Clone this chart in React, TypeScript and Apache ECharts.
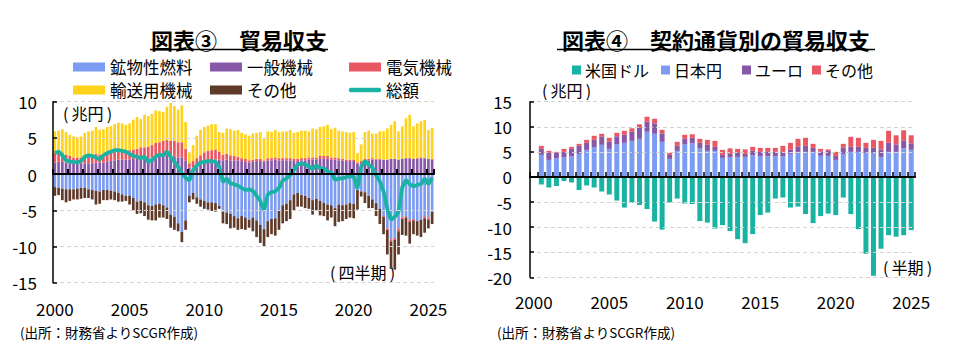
import React, { useEffect, useRef } from "react";
import * as echarts from "echarts";

const FONT = "'Noto Sans CJK JP', 'Noto Sans', sans-serif";

// ---------- 図表③ 貿易収支 (quarterly, 2000Q1 - 2025Q2, 兆円) ----------
const quarterCategories = Array.from({ length: 102 }, (_, i) => `${2000 + Math.floor(i / 4)}Q${(i % 4) + 1}`);

const mineralFuel = [
  -1.8, -1.9, -2.0, -2.1, -2.1, -2.1, -2.0, -1.9, -1.9, -2.1, -2.2, -2.3, -2.4, -2.2, -2.2, -2.3,
  -2.4, -2.6, -2.8, -3.0, -3.0, -3.3, -3.8, -3.7, -3.9, -4.3, -4.4, -4.2, -4.1, -4.3, -4.6, -5.6,
  -5.9, -6.8, -8.0, -6.4, -3.0, -2.6, -3.2, -3.5, -3.7, -3.9, -3.9, -4.0, -4.4, -5.2, -5.3, -5.5,
  -5.8, -6.1, -5.8, -6.0, -6.3, -6.0, -6.4, -7.0, -7.6, -6.5, -6.2, -6.1, -5.0, -4.3, -4.1, -3.6,
  -2.8, -2.6, -2.9, -3.0, -3.3, -3.6, -3.4, -3.7, -4.0, -4.2, -4.3, -4.7, -4.2, -4.3, -4.2, -4.0,
  -4.1, -2.2, -2.4, -2.5, -3.0, -3.5, -4.0, -4.8, -5.8, -7.5, -9.0, -8.8, -7.5, -6.0, -5.8, -6.3,
  -6.2, -6.5, -6.3, -5.8, -6.0, -5.2,
];
const generalMachinery = [
  1.6, 1.7, 1.7, 1.6, 1.5, 1.4, 1.4, 1.4, 1.5, 1.5, 1.5, 1.6, 1.6, 1.6, 1.7, 1.8,
  1.9, 2.0, 2.0, 2.0, 2.0, 2.1, 2.1, 2.2, 2.2, 2.2, 2.3, 2.4, 2.4, 2.5, 2.5, 2.4,
  2.4, 2.3, 2.3, 1.9, 0.9, 0.9, 1.1, 1.3, 1.6, 1.8, 1.9, 2.0, 2.0, 1.9, 2.0, 1.9,
  1.9, 1.9, 1.8, 1.7, 1.6, 1.7, 1.8, 1.8, 1.7, 1.9, 1.9, 2.0, 1.9, 1.9, 1.9, 1.9,
  1.8, 1.8, 1.9, 1.9, 2.0, 2.0, 2.0, 2.1, 2.1, 2.1, 2.0, 2.0, 1.9, 1.9, 1.8, 1.8,
  1.8, 1.4, 1.5, 1.8, 1.9, 2.0, 2.0, 2.0, 2.0, 2.0, 2.1, 2.1, 2.0, 2.1, 2.2, 2.2,
  2.1, 2.1, 2.2, 2.2, 2.1, 2.0,
];
const electricalMachinery = [
  1.3, 1.4, 1.3, 1.1, 1.0, 0.9, 0.9, 0.9, 1.0, 1.1, 1.1, 1.2, 1.1, 1.2, 1.3, 1.4,
  1.5, 1.5, 1.4, 1.3, 1.3, 1.3, 1.4, 1.5, 1.5, 1.6, 1.7, 1.9, 2.0, 2.1, 2.2, 2.2,
  2.2, 2.1, 2.1, 1.6, 0.6, 0.9, 1.1, 1.3, 1.4, 1.4, 1.4, 1.4, 1.1, 0.8, 0.8, 0.7,
  0.6, 0.5, 0.4, 0.4, 0.3, 0.3, 0.3, 0.3, 0.2, 0.3, 0.3, 0.3, 0.3, 0.3, 0.3, 0.3,
  0.3, 0.3, 0.3, 0.3, 0.3, 0.3, 0.3, 0.4, 0.4, 0.4, 0.3, 0.3, 0.3, 0.2, 0.2, 0.2,
  0.2, 0.2, 0.3, 0.3, 0.2, 0.2, 0.1, 0.1, -0.1, -0.2, -0.3, -0.3, -0.4, -0.2, -0.2, -0.3,
  -0.2, 0.1, 0.1, -0.3, -0.3, 0.1,
];
const transportMachinery = [
  3.0, 2.9, 3.2, 3.1, 2.9, 2.9, 2.8, 2.9, 3.2, 3.3, 3.4, 3.7, 3.4, 3.4, 3.5, 3.4,
  3.5, 3.6, 3.6, 3.5, 3.7, 4.1, 4.4, 3.9, 4.5, 4.2, 4.3, 4.5, 4.3, 4.0, 4.6, 5.2,
  4.8, 4.5, 5.1, 3.7, 1.5, 2.2, 3.1, 3.5, 3.5, 3.5, 3.6, 3.5, 2.7, 3.0, 3.5, 3.6,
  3.5, 3.7, 3.5, 3.4, 3.4, 3.6, 3.6, 3.7, 3.1, 3.7, 3.6, 3.8, 3.6, 3.7, 3.7, 3.9,
  3.6, 3.7, 3.8, 3.8, 3.6, 4.0, 3.9, 4.0, 4.1, 4.3, 3.9, 4.1, 3.8, 3.8, 3.8, 3.7,
  3.8, 1.3, 2.3, 3.7, 3.9, 3.4, 3.5, 3.8, 3.9, 4.3, 4.7, 5.2, 3.9, 4.5, 5.5, 6.0,
  4.5, 4.8, 5.0, 5.3, 4.0, 4.3,
];
const otherItems = [
  -1.2, -1.0, -1.6, -1.8, -1.6, -1.4, -1.5, -1.5, -1.4, -1.2, -1.3, -1.9, -1.7, -1.4, -1.4, -1.2,
  -1.2, -1.2, -1.0, -0.7, -1.2, -1.7, -1.7, -1.7, -1.9, -2.0, -2.0, -2.2, -1.9, -1.7, -1.6, -1.8,
  -1.8, -1.1, -1.4, -1.3, -0.9, -0.9, -0.9, -1.0, -1.1, -1.0, -1.2, -1.2, -0.4, -1.6, -1.6, -2.0,
  -1.6, -1.6, -1.8, -1.7, -1.1, -1.9, -2.3, -2.5, -2.4, -2.2, -2.1, -2.4, -2.7, -2.5, -2.4, -2.6,
  -2.3, -1.9, -1.6, -1.7, -1.5, -2.0, -1.6, -2.0, -1.8, -2.2, -1.7, -2.5, -2.4, -2.2, -2.0, -2.0,
  -2.0, -2.7, -0.7, -1.5, -1.7, -1.2, -1.8, -2.1, -2.4, -3.4, -3.8, -4.1, -3.2, -2.2, -2.5, -3.0,
  -1.9, -2.0, -2.4, -2.0, -1.2, -1.7,
];
const tradeTotal = [
  2.9, 3.1, 2.6, 1.9, 1.7, 1.7, 1.6, 1.8, 2.4, 2.6, 2.5, 2.3, 2.0, 2.6, 2.9, 3.1,
  3.3, 3.3, 3.2, 3.1, 2.8, 2.5, 2.4, 2.2, 2.4, 1.7, 1.9, 2.4, 2.7, 2.6, 3.1, 2.4,
  1.7, 1.0, 0.1, -0.5, -0.9, 0.5, 1.2, 1.6, 1.7, 1.8, 1.8, 1.7, 1.0, -1.1, -0.6, -1.3,
  -1.4, -1.6, -1.9, -2.2, -2.1, -2.3, -3.0, -3.7, -5.0, -2.8, -2.5, -2.4, -1.9, -0.9, -0.6, -0.1,
  0.6, 1.3, 1.5, 1.3, 1.1, 0.7, 1.2, 0.8, 0.8, 0.4, 0.2, -0.8, -0.6, -0.6, -0.4, -0.3,
  -0.3, -2.0, 1.0, 1.8, 1.3, 0.9, -0.2, -1.0, -2.4, -4.8, -6.3, -5.9, -5.2, -1.8, -0.8, -1.4,
  -1.7, -1.5, -1.4, -0.6, -1.4, -0.5,
];

// ---------- 図表④ 契約通貨別の貿易収支 (half-yearly, 2000H1 - 2025H1, 兆円) ----------
const halfCategories = Array.from({ length: 51 }, (_, i) => `${2000 + Math.floor(i / 2)}H${(i % 2) + 1}`);

const usDollar = [
  null, -1.5, -2.1, -1.8, -0.8, -1.1, -2.6, -1.7, -2.1, -2.9, -3.5, -4.7, -6.1, -5.1, -5.6, -6.4,
  -8.9, -10.5, -5.1, -4.3, -5.3, -5.4, -8.8, -9.1, -10.3, -9.6, -10.8, -12.4, -13.2, -11.4, -7.6,
  -7.1, -4.3, -4.1, -6.1, -5.9, -7.4, -9.2, -7.8, -7.3, -7.6, -4.1, -7.4, -10.4, -15.3, -19.7,
  -14.3, -11.6, -11.9, -11.6, -10.6,
];
const japaneseYen = [
  null, 4.4, 3.4, 3.7, 3.9, 4.1, 4.6, 5.4, 5.9, 6.4, 5.6, 6.5, 6.8, 7.2, 7.6, 9.0,
  8.6, 7.0, 3.6, 5.2, 6.5, 6.7, 5.7, 5.2, 5.2, 3.8, 3.9, 4.0, 4.0, 4.3, 4.1,
  4.1, 4.1, 4.1, 4.6, 5.0, 5.0, 5.0, 4.2, 4.2, 3.4, 4.6, 5.0, 5.0, 4.8, 4.8,
  4.0, 5.0, 5.0, 5.7, 5.4,
];
const euro = [
  null, 1.2, 1.4, 1.1, 1.1, 1.5, 1.6, 1.4, 1.5, 1.6, 1.5, 1.6, 1.6, 1.8, 2.2, 2.0,
  2.1, 1.7, 0.8, 1.0, 1.1, 1.1, 1.1, 1.2, 0.8, 0.6, 0.7, 0.8, 0.6, 0.9, 0.9,
  0.9, 0.9, 0.9, 0.8, 1.0, 1.2, 0.8, 0.9, 1.0, 0.8, 1.3, 1.0, 1.0, 1.0, 1.0,
  1.5, 1.8, 1.5, 1.5, 1.3,
];
const otherCurrency = [
  null, 0.6, 0.4, 0.2, 0.6, 0.4, 0.4, 0.6, 0.8, 0.6, 0.7, 0.7, 0.8, 0.7, 0.7, 1.0,
  0.9, 0.7, 0.4, 0.8, 0.8, 0.7, 0.8, 1.0, 1.2, 1.0, 1.1, 0.8, 0.9, 0.8, 0.8,
  0.8, 0.8, 1.2, 1.4, 1.6, 1.6, 0.8, 0.5, 0.3, 0.8, 0.7, 2.0, 1.8, 1.0, 1.6,
  1.7, 2.4, 1.8, 2.1, 1.6,
];

// ---------- colours ----------
const C_BLUE = "#7b9cf2";
const C_PURPLE = "#8757a8";
const C_RED = "#e95762";
const C_YELLOW = "#ffd21c";
const C_BROWN = "#603a28";
const C_TEAL = "#19b3a4";

const leftLegend = [
  { name: "鉱物性燃料", color: C_BLUE, x: 73, y: 67, kind: "rect" },
  { name: "一般機械", color: C_PURPLE, x: 210, y: 67, kind: "rect" },
  { name: "電気機械", color: C_RED, x: 349, y: 67, kind: "rect" },
  { name: "輸送用機械", color: C_YELLOW, x: 73, y: 90, kind: "rect" },
  { name: "その他", color: C_BROWN, x: 210, y: 90, kind: "rect" },
  { name: "総額", color: C_TEAL, x: 349, y: 90, kind: "line" },
];
const rightLegend = [
  { name: "米国ドル", color: C_TEAL, x: 572 },
  { name: "日本円", color: C_BLUE, x: 661 },
  { name: "ユーロ", color: C_PURPLE, x: 742 },
  { name: "その他", color: C_RED, x: 812 },
];

function txt(text: string, x: number, y: number, size: number, extra: any = {}) {
  return {
    type: "text",
    x,
    y,
    silent: true,
    style: {
      text,
      fill: "#000",
      fontSize: size,
      fontFamily: FONT,
      verticalAlign: "middle",
      align: "left",
      ...extra,
    },
  };
}

function buildGraphics() {
  const g: any[] = [];
  // titles
  g.push(txt("図表③　貿易収支", 239, 38.5, 22, { align: "center", fontWeight: "bold" }));
  g.push({ type: "line", shape: { x1: 150, y1: 49.5, x2: 328, y2: 49.5 }, style: { stroke: "#000", lineWidth: 1.5 } });
  g.push(txt("図表④　契約通貨別の貿易収支", 716, 38.5, 22, { align: "center", fontWeight: "bold" }));
  g.push({ type: "line", shape: { x1: 557, y1: 49.5, x2: 875, y2: 49.5 }, style: { stroke: "#000", lineWidth: 1.5 } });

  // left legend
  leftLegend.forEach((it) => {
    if (it.kind === "rect") {
      g.push({ type: "rect", shape: { x: it.x, y: it.y - 4.5, width: 32, height: 9 }, style: { fill: it.color } });
    } else {
      g.push({
        type: "line",
        shape: { x1: it.x + 2, y1: it.y, x2: it.x + 30, y2: it.y },
        style: { stroke: it.color, lineWidth: 4.5, lineCap: "round" },
      });
    }
    g.push(txt(it.name, it.x + 37, it.y, 16.5));
  });
  // right legend
  rightLegend.forEach((it) => {
    g.push({ type: "rect", shape: { x: it.x, y: 70 - 4.5, width: 9, height: 9 }, style: { fill: it.color } });
    g.push(txt(it.name, it.x + 13, 70, 16));
  });

  // unit / period labels
  g.push(txt("(\u2009兆円\u2009)", 63, 113, 16));
  g.push(txt("(\u2009兆円\u2009)", 542, 90, 16));
  g.push(txt("(\u2009四半期\u2009)", 330, 272, 16));
  g.push(txt("(\u2009半期\u2009)", 883, 267, 16));
  // sources
  g.push(txt("(出所：財務省よりSCGR作成)", 20, 332, 13.5));
  g.push(txt("(出所：財務省よりSCGR作成)", 497, 332, 13.5));
  return g;
}

const yearFormatter = (v: string) => v.slice(0, 4);

function buildOption(): any {
  const axisLabelStyle = { color: "#000", fontSize: 17, fontFamily: FONT };
  const splitLine = { show: true, lineStyle: { color: "#d4d4d4", type: [4, 3], width: 1 } };
  return {
    animation: false,
    textStyle: { fontFamily: FONT },
    grid: [
      { left: 53, top: 101.7, width: 381, height: 181 },
      { left: 530, top: 101.7, width: 385, height: 175.6 },
    ],
    xAxis: [
      {
        type: "category",
        gridIndex: 0,
        data: quarterCategories,
        z: 10,
        axisLine: { show: true, onZero: true, lineStyle: { color: "#000", width: 2 } },
        axisTick: { show: true, inside: true, length: 5, interval: 3, lineStyle: { color: "#000", width: 2 } },
        axisLabel: { show: false },
        splitLine: { show: false },
      },
      {
        type: "category",
        gridIndex: 0,
        position: "bottom",
        data: quarterCategories,
        axisLine: { show: false, onZero: false },
        axisTick: { show: false },
        axisLabel: { ...axisLabelStyle, interval: 19, margin: 17, formatter: yearFormatter },
        splitLine: { show: false },
      },
      {
        type: "category",
        gridIndex: 1,
        data: halfCategories,
        z: 10,
        axisLine: { show: true, onZero: true, lineStyle: { color: "#000", width: 2 } },
        axisTick: { show: true, inside: true, length: 5, interval: 0, lineStyle: { color: "#000", width: 1.5 } },
        axisLabel: { show: false },
        splitLine: { show: false },
      },
      {
        type: "category",
        gridIndex: 1,
        position: "bottom",
        data: halfCategories,
        axisLine: { show: false, onZero: false },
        axisTick: { show: false },
        axisLabel: { ...axisLabelStyle, interval: 9, margin: 16, formatter: yearFormatter },
        splitLine: { show: false },
      },
    ],
    yAxis: [
      {
        type: "value",
        gridIndex: 0,
        min: -15,
        max: 10,
        interval: 5,
        z: 10,
        axisLine: { show: true, lineStyle: { color: "#000", width: 1.5 } },
        axisTick: { show: true, inside: true, length: 4, lineStyle: { color: "#000", width: 1.5 } },
        axisLabel: { ...axisLabelStyle, margin: 16 },
        splitLine,
      },
      {
        type: "value",
        gridIndex: 1,
        min: -20,
        max: 15,
        interval: 5,
        z: 10,
        axisLine: { show: true, lineStyle: { color: "#000", width: 1.5 } },
        axisTick: { show: true, inside: true, length: 4, lineStyle: { color: "#000", width: 1.5 } },
        axisLabel: { ...axisLabelStyle, margin: 18 },
        splitLine,
      },
    ],
    series: [
      { name: "鉱物性燃料", type: "bar", xAxisIndex: 0, yAxisIndex: 0, stack: "items", barWidth: "72%", itemStyle: { color: C_BLUE }, data: mineralFuel },
      { name: "一般機械", type: "bar", xAxisIndex: 0, yAxisIndex: 0, stack: "items", barWidth: "72%", itemStyle: { color: C_PURPLE }, data: generalMachinery },
      { name: "電気機械", type: "bar", xAxisIndex: 0, yAxisIndex: 0, stack: "items", barWidth: "72%", itemStyle: { color: C_RED }, data: electricalMachinery },
      { name: "輸送用機械", type: "bar", xAxisIndex: 0, yAxisIndex: 0, stack: "items", barWidth: "72%", itemStyle: { color: C_YELLOW }, data: transportMachinery },
      { name: "その他", type: "bar", xAxisIndex: 0, yAxisIndex: 0, stack: "items", barWidth: "72%", itemStyle: { color: C_BROWN }, data: otherItems },
      {
        name: "総額",
        type: "line",
        xAxisIndex: 0,
        yAxisIndex: 0,
        symbol: "none",
        z: 5,
        lineStyle: { color: C_TEAL, width: 3.8 },
        itemStyle: { color: C_TEAL },
        data: tradeTotal,
      },
      { name: "米国ドル", type: "bar", xAxisIndex: 2, yAxisIndex: 1, stack: "ccy", barWidth: "66%", itemStyle: { color: C_TEAL }, data: usDollar },
      { name: "日本円", type: "bar", xAxisIndex: 2, yAxisIndex: 1, stack: "ccy", barWidth: "66%", itemStyle: { color: C_BLUE }, data: japaneseYen },
      { name: "ユーロ", type: "bar", xAxisIndex: 2, yAxisIndex: 1, stack: "ccy", barWidth: "66%", itemStyle: { color: C_PURPLE }, data: euro },
      { name: "その他(通貨)", type: "bar", xAxisIndex: 2, yAxisIndex: 1, stack: "ccy", barWidth: "66%", itemStyle: { color: C_RED }, data: otherCurrency },
    ],
    graphic: buildGraphics(),
  };
}

export default function App() {
  const ref = useRef<HTMLDivElement>(null);
  useEffect(() => {
    if (!ref.current) return;
    const chart = echarts.init(ref.current, null, { renderer: "svg" });
    chart.setOption(buildOption());
    return () => chart.dispose();
  }, []);
  return (
    <div
      ref={ref}
      style={{ position: "absolute", left: 0, top: 0, width: 968, height: 359, background: "#fff" }}
    />
  );
}
